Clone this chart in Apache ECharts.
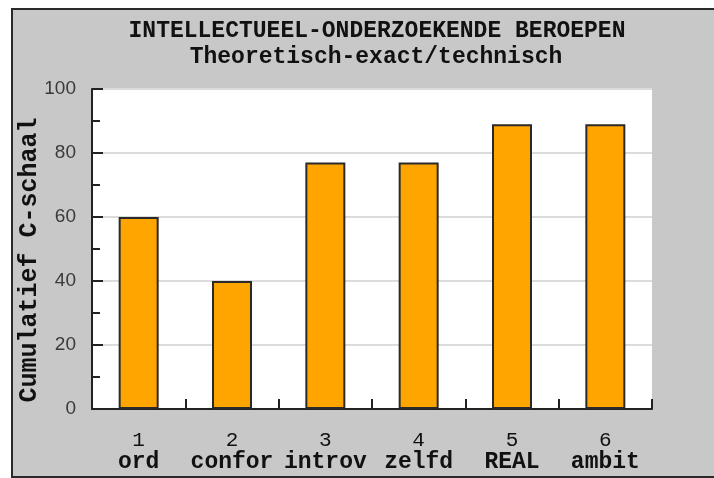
<!DOCTYPE html>
<html>
<head>
<meta charset="utf-8">
<script src="https://cdn.jsdelivr.net/npm/echarts@6/dist/echarts.min.js"></script>
<style>
  html, body { margin: 0; padding: 0; background: #fff; }
  #frame {
    position: absolute; left: 11px; top: 8px; width: 720px; height: 466px;
    background: #c8c8c8; border: 2px solid #2a2a2a; border-right: none;
  }
  #main { position: absolute; left: 0; top: 0; width: 714px; height: 478px; }
</style>
</head>
<body>
<div id="frame"></div>
<div id="main"></div>
<script>
// gegevens
const categories = ['1', '2', '3', '4', '5', '6'];
const labels = ['ord', 'confor', 'introv', 'zelfd', 'REAL', 'ambit'];
const values = [60, 40, 77, 77, 89, 89];
const yTicks = [0, 20, 40, 60, 80, 100];

const chart = echarts.init(document.getElementById('main'));
const mono = '"Liberation Mono", "DejaVu Sans Mono", monospace';

const option = {
  backgroundColor: 'transparent',
  animation: false,
  title: [
    {
      text: 'INTELLECTUEEL-ONDERZOEKENDE BEROEPEN',
      left: 372, top: 15, textAlign: 'center',
      textStyle: { fontFamily: mono, fontSize: 23, fontWeight: 'bold', color: '#111' }
    },
    {
      text: 'Theoretisch-exact/technisch',
      left: 371, top: 41, textAlign: 'center',
      textStyle: { fontFamily: mono, fontSize: 23, fontWeight: 'bold', color: '#111' }
    }
  ],
  grid: { left: 92, top: 89, right: 62, bottom: 69, show: true, backgroundColor: '#fff', borderWidth: 0 },
  xAxis: {
    type: 'category',
    data: categories,
    boundaryGap: true,
    axisLine: { lineStyle: { color: '#222', width: 2 } },
    axisTick: { show: true, inside: true, length: 10, interval: 0, lineStyle: { color: '#222', width: 2 } },
    axisLabel: {
      margin: 20,
      interval: 0,
      formatter: (v, i) => '{n|' + v + '}\n{b|' + labels[i] + '}',
      rich: {
        n: { fontFamily: mono, fontSize: 21, color: '#111', lineHeight: 22 },
        b: { fontFamily: mono, fontSize: 23, fontWeight: 'bold', color: '#111', lineHeight: 22 }
      }
    }
  },
  yAxis: {
    type: 'value',
    min: yTicks[0],
    max: yTicks[yTicks.length - 1],
    interval: 20,
    name: 'Cumulatief C-schaal',
    nameLocation: 'middle',
    nameRotate: 90,
    nameGap: 50,
    nameMoveOverlap: false,
    nameTextStyle: { fontFamily: mono, fontSize: 25, fontWeight: 'bold', color: '#111', padding: [0, 22, 0, 0] },
    axisLine: { show: true, lineStyle: { color: '#222', width: 2 } },
    axisTick: { show: true, inside: true, length: 11, lineStyle: { color: '#222', width: 2 } },
    minorTick: { show: true, splitNumber: 2, length: 8, lineStyle: { color: '#222', width: 2 } },
    splitLine: { show: true, lineStyle: { color: '#dcdcdc', width: 2 } },
    axisLabel: {
      margin: 16,
      fontFamily: '"Liberation Sans", Arial, sans-serif',
      fontSize: 19,
      color: '#3a3a3a'
    }
  },
  series: [
    {
      type: 'bar',
      data: values,
      barWidth: 40,
      itemStyle: { color: '#ffa500', borderColor: '#2a2a2a', borderWidth: 2 }
    }
  ]
};

chart.setOption(option);
</script>
</body>
</html>
